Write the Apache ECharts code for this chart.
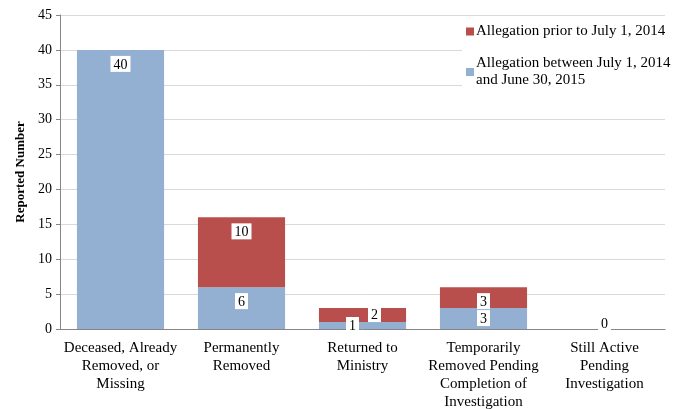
<html lang="en">
<head>
    <meta charset="UTF-8">
    <title>Reported Number</title>
    <script src="https://cdn.jsdelivr.net/npm/echarts@6.0.0/dist/echarts.min.js"></script>
    <style>
        html, body { margin: 0; padding: 0; background: #fff; }
        #my-chart { width: 687px; height: 409px; }
    </style>
</head>
<body>
    <div id="my-chart"></div>
    <script>
        var categories = [
            'Deceased, Already\nRemoved, or\nMissing',
            'Permanently\nRemoved',
            'Returned to\nMinistry',
            'Temporarily\nRemoved Pending\nCompletion of\nInvestigation',
            'Still Active\nPending\nInvestigation'
        ];
        var priorName = 'Allegation prior to July 1, 2014';
        var betweenName = 'Allegation between July 1, 2014 and June 30, 2015';
        var betweenValues = [40, 6, 1, 3, 0];
        var priorValues = [0, 10, 2, 3, 0];
        var yTicks = [0, 5, 10, 15, 20, 25, 30, 35, 40, 45];

        var serif = '"Liberation Serif", "Times New Roman", serif';

        // per-bar label nudges, as Excel placed them
        var betweenOffsets = [[0, 0], [0, 0], [-10, -11], [0, -4], [0, 0]];
        var priorOffsets = [[0, 0], [0, 0], [12, -8], [0, 0], [0, 0]];

        function labelBase() {
            return {
                show: true,
                position: 'insideTop',
                distance: 6,
                fontFamily: serif,
                fontSize: 14,
                color: '#000',
                backgroundColor: '#fff',
                padding: [2, 3, 0, 3]
            };
        }

        function buildData(values, offsets, keepZero) {
            return values.map(function (v, i) {
                var lab = labelBase();
                lab.offset = offsets[i];
                if (v === 0) {
                    if (keepZero) {
                        lab.position = 'inside';
                        lab.offset = [0, -5];
                    } else {
                        lab.show = false;
                    }
                }
                return { value: v, label: lab };
            });
        }

        window.onload = function () {
            var myChart = echarts.init(document.getElementById('my-chart'));
            var option = {
                animation: false,
                backgroundColor: '#fff',
                grid: { left: 60, right: 22, top: 15, bottom: 80, containLabel: false, outerBoundsMode: 'none' },
                legend: {
                    data: [priorName, betweenName],
                    orient: 'vertical',
                    left: 462,
                    top: 20,
                    itemWidth: 8,
                    itemHeight: 8,
                    itemGap: 15,
                    padding: [3, 4, 10, 4],
                    backgroundColor: '#fff',
                    selectedMode: false,
                    icon: 'rect',
                    formatter: function (name) {
                        return name === betweenName
                            ? 'Allegation between July 1, 2014\nand June 30, 2015'
                            : name;
                    },
                    textStyle: {
                        fontFamily: serif,
                        fontSize: 15,
                        color: '#000',
                        lineHeight: 17,
                        padding: [0, 0, 0, -3]
                    }
                },
                xAxis: {
                    type: 'category',
                    data: categories,
                    axisLine: { lineStyle: { color: '#868686' } },
                    axisTick: { length: 5, lineStyle: { color: '#868686' } },
                    axisLabel: {
                        interval: 0,
                        fontFamily: serif,
                        fontSize: 15,
                        lineHeight: 18,
                        color: '#000',
                        margin: 10
                    }
                },
                yAxis: {
                    type: 'value',
                    min: yTicks[0],
                    max: yTicks[yTicks.length - 1],
                    interval: 5,
                    name: 'Reported Number',
                    nameLocation: 'middle',
                    nameGap: 33,
                    nameTextStyle: {
                        fontFamily: serif,
                        fontSize: 13,
                        fontWeight: 'bold',
                        color: '#000'
                    },
                    axisLine: { show: true, lineStyle: { color: '#868686' } },
                    axisTick: { show: true, length: 4, lineStyle: { color: '#868686' } },
                    axisLabel: {
                        fontFamily: serif,
                        fontSize: 14,
                        color: '#000',
                        margin: 8
                    },
                    splitLine: { lineStyle: { color: '#D9D9D9' } }
                },
                series: [
                    {
                        name: betweenName,
                        type: 'bar',
                        stack: 'total',
                        barCategoryGap: '28%',
                        itemStyle: { color: '#93AFD2' },
                        data: buildData(betweenValues, betweenOffsets, true)
                    },
                    {
                        name: priorName,
                        type: 'bar',
                        stack: 'total',
                        barCategoryGap: '28%',
                        itemStyle: { color: '#B94F4C' },
                        data: buildData(priorValues, priorOffsets, false)
                    }
                ]
            };
            myChart.setOption(option);
        };
    </script>
</body>
</html>
